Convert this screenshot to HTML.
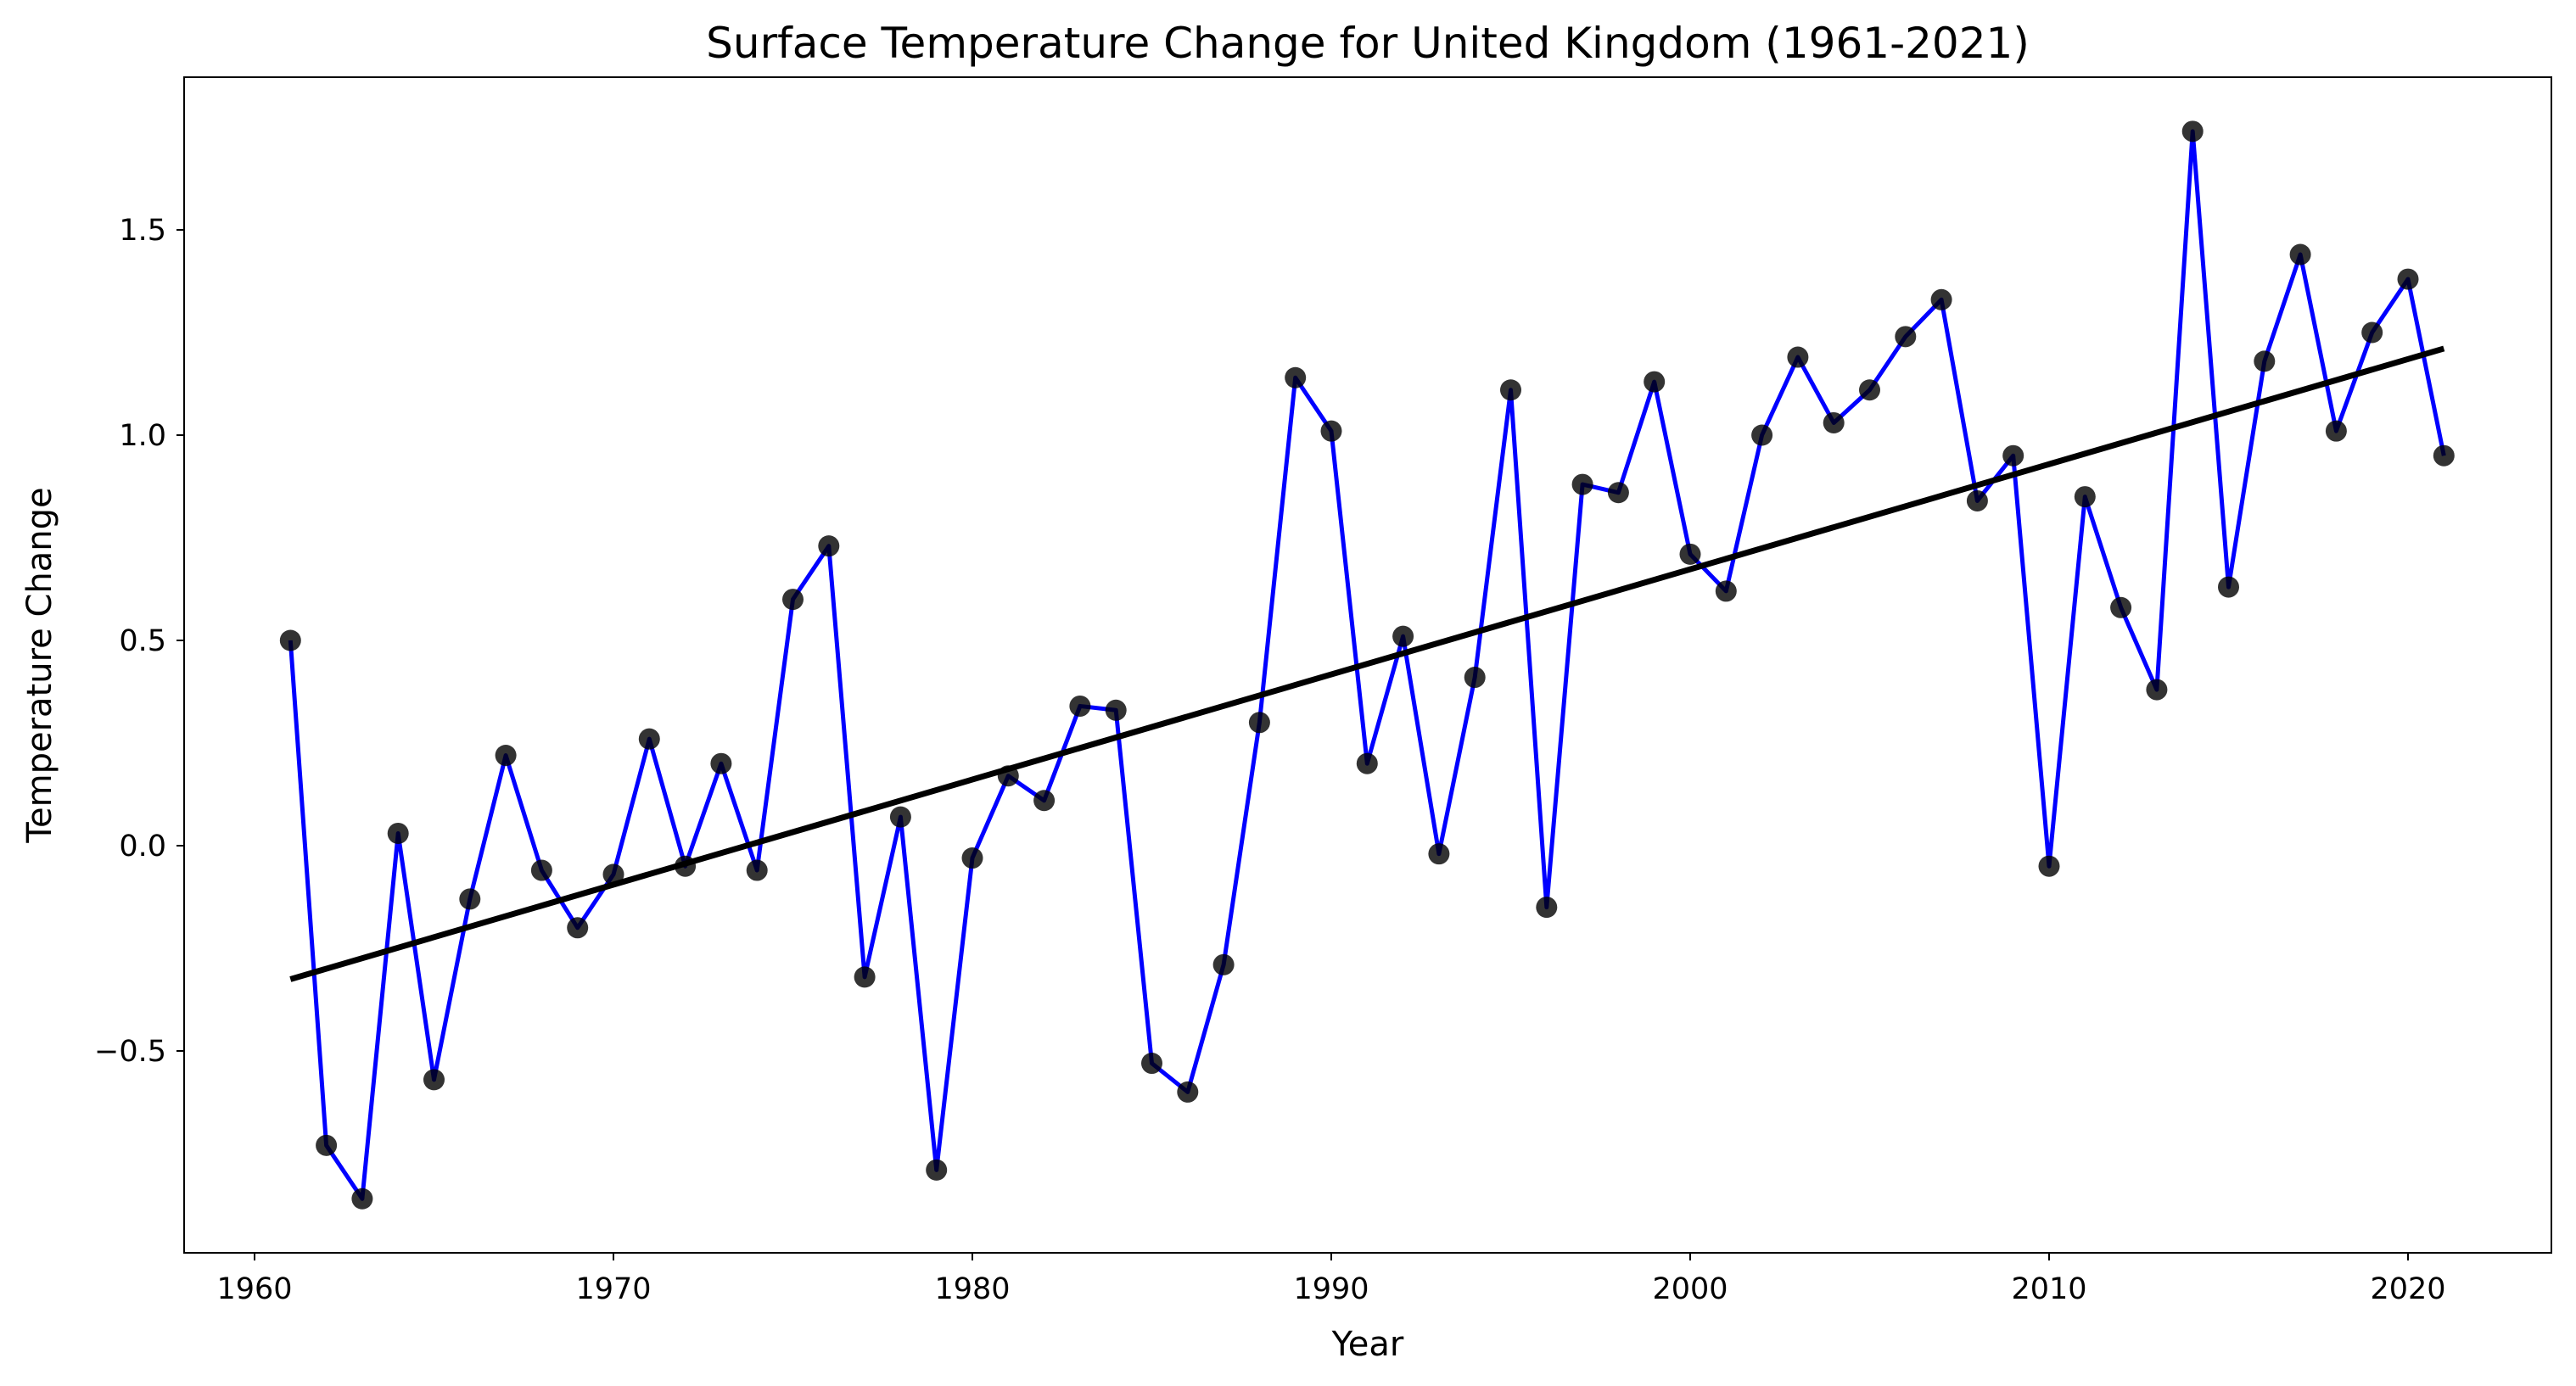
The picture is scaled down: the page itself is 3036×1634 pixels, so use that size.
<!DOCTYPE html>
<html><head><meta charset="utf-8"><style>
html,body{margin:0;padding:0;background:#fff;}
svg{display:block;font-family:"DejaVu Sans","Liberation Sans",sans-serif;}
</style></head><body>
<svg id="chart" width="3036" height="1634" viewBox="0 0 3036 1634" xmlns="http://www.w3.org/2000/svg">
<rect width="3036" height="1634" fill="#fff"/>
<text x="1612" y="68" font-size="50" text-anchor="middle">Surface Temperature Change for United Kingdom (1961-2021)</text>
<g id="plot"></g>
<rect x="217" y="91" width="2790" height="1386" fill="none" stroke="#000" stroke-width="2"/>
<text x="1612" y="1598" font-size="40" text-anchor="middle">Year</text>
<text x="60" y="784" font-size="40" text-anchor="middle" transform="rotate(-90 60 784)">Temperature Change</text>
</svg>
<script>
const years = [];
for (let y = 1961; y <= 2021; y++) years.push(y);
const values = [0.50,-0.73,-0.86,0.03,-0.57,-0.13,0.22,-0.06,-0.20,-0.07,0.26,-0.05,0.20,-0.06,0.60,0.73,-0.32,0.07,-0.79,-0.03,0.17,0.11,0.34,0.33,-0.53,-0.60,-0.29,0.30,1.14,1.01,0.20,0.51,-0.02,0.41,1.11,-0.15,0.88,0.86,1.13,0.71,0.62,1.00,1.19,1.03,1.11,1.24,1.33,0.84,0.95,-0.05,0.85,0.58,0.38,1.74,0.63,1.18,1.44,1.01,1.25,1.38,0.95];
const xTicks = [1960,1970,1980,1990,2000,2010,2020];
const yTicks = [-0.5,0.0,0.5,1.0,1.5];
const yTickLabels = ["\u22120.5","0.0","0.5","1.0","1.5"];

const NS = "http://www.w3.org/2000/svg";
const xs = v => 300 + (v - 1960) * (2838 - 300) / 60;
const ys = v => 997 - v * 484;
const plot = document.getElementById('plot');
function mk(tag, attrs) { const e = document.createElementNS(NS, tag); for (const k in attrs) e.setAttribute(k, attrs[k]); plot.appendChild(e); return e; }

xTicks.forEach(t => {
  const l = mk('line', {x1: xs(t), x2: xs(t), y1: 1477, y2: 1486, stroke: '#000', 'stroke-width': 2});
  
  
  const tx = mk('text', {x: xs(t), y: 1531, 'font-size': 35, 'text-anchor': 'middle'});
  tx.textContent = t;
  
  
});
yTicks.forEach((t, i) => {
  const l = mk('line', {x1: 208, x2: 217, y1: ys(t), y2: ys(t), stroke: '#000', 'stroke-width': 2});
  
  
  const tx = mk('text', {x: 196, y: ys(t) + 12, 'font-size': 35, 'text-anchor': 'end'});
  tx.textContent = yTickLabels[i];
  
  
});

const pts = years.map((y, i) => xs(y) + ',' + ys(values[i])).join(' ');
const line = mk('polyline', {points: pts, fill: 'none', stroke: '#0000ff', 'stroke-width': 5, 'stroke-linejoin': 'round'});



years.forEach((y, i) => {
  const c = mk('circle', {cx: xs(y), cy: ys(values[i]), r: 12.5, fill: '#000', 'fill-opacity': 0.8});
  
  
});

const n = years.length;
const mx = years.reduce((a, b) => a + b, 0) / n;
const my = values.reduce((a, b) => a + b, 0) / n;
let sxy = 0, sxx = 0;
years.forEach((y, i) => { sxy += (y - mx) * (values[i] - my); sxx += (y - mx) * (y - mx); });
const slope = sxy / sxx, icpt = my - slope * mx;
const y0 = years[0], y1 = years[n - 1];
const tr = mk('line', {x1: xs(y0), y1: ys(slope * y0 + icpt), x2: xs(y1), y2: ys(slope * y1 + icpt), stroke: '#000', 'stroke-width': 7});


</script>
</body></html>
